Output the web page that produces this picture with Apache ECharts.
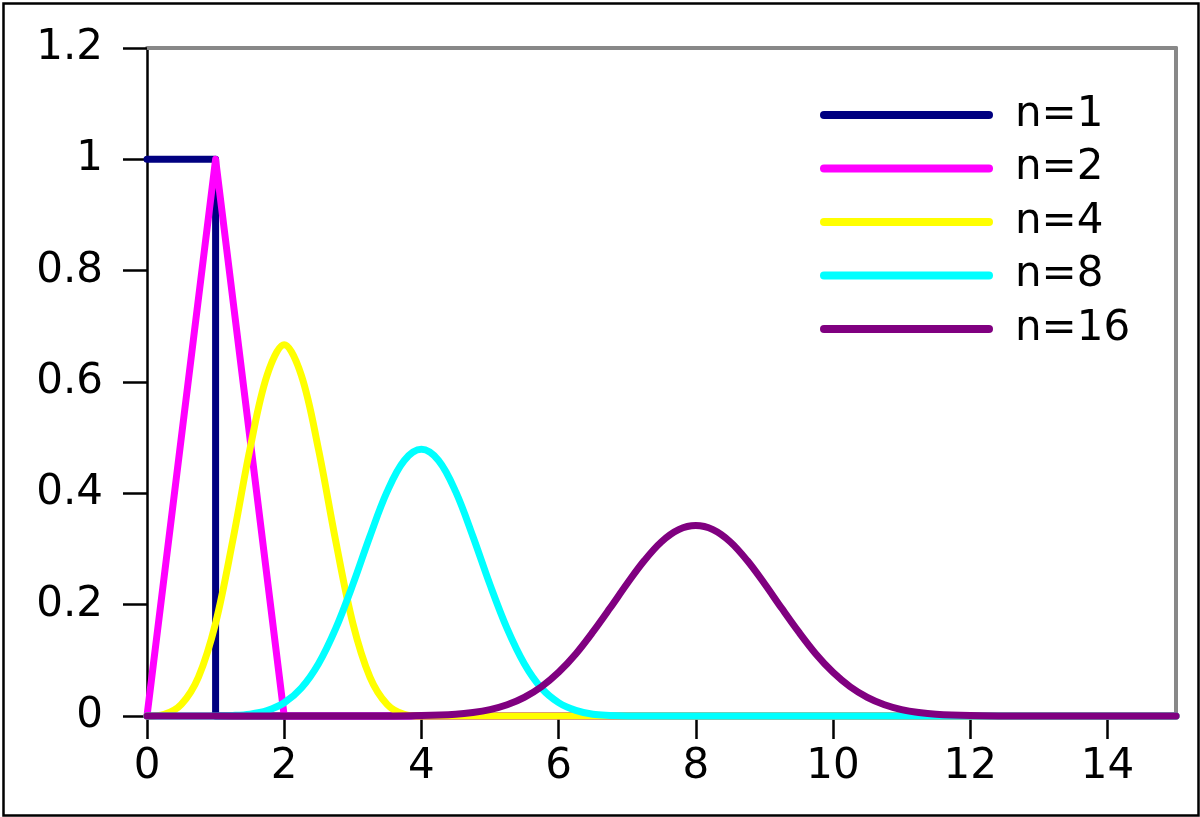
<!DOCTYPE html>
<html>
<head>
<meta charset="utf-8">
<script src="https://cdn.jsdelivr.net/npm/echarts@6/dist/echarts.min.js"></script>
<style>
html,body{margin:0;padding:0;background:#fff;}
#chart{width:1200px;height:817px;}
</style>
</head>
<body>
<div id="chart"></div>
<script>
// Series names
var seriesNames = ['n=1', 'n=2', 'n=4', 'n=8', 'n=16'];
var seriesColors = ['#000080', '#ff00ff', '#ffff00', '#00ffff', '#800080'];

// n=1
var n1X = [0, 1, 1, 15];
var n1Y = [1, 1, 0, 0];
// n=2
var n2X = [0, 1, 2, 15];
var n2Y = [0, 1, 0, 0];
// n=4
var n4X = [0, 0.25, 0.5, 0.75, 1, 1.25, 1.5, 1.75, 2, 2.25, 2.5, 2.75, 3, 3.25, 3.5, 3.75, 4, 15];
var n4Y = [0, 0.003, 0.021, 0.070, 0.167, 0.315, 0.479, 0.612, 0.667, 0.612, 0.479, 0.315, 0.167, 0.070, 0.021, 0.003, 0, 0];
// n=8
var n8X = [0, 1, 1.25, 1.5, 1.75, 2, 2.25, 2.5, 2.75, 3, 3.25, 3.5, 3.75, 4, 4.25, 4.5, 4.75, 5, 5.25, 5.5, 5.75, 6, 6.25, 6.5, 6.75, 7, 15];
var n8Y = [0, 0.0002, 0.001, 0.0034, 0.0098, 0.0238, 0.0504, 0.094, 0.157, 0.236, 0.323, 0.403, 0.459, 0.479, 0.459, 0.403, 0.323, 0.236, 0.157, 0.094, 0.050, 0.024, 0.010, 0.003, 0.001, 0.0002, 0];
// n=16
var n16X = [0, 3, 3.5, 4, 4.5, 4.75, 5, 5.25, 5.5, 5.75, 6, 6.25, 6.5, 6.75, 7, 7.25, 7.5, 7.75, 8,
            8.25, 8.5, 8.75, 9, 9.25, 9.5, 9.75, 10, 10.25, 10.5, 10.75, 11, 11.25, 11.5, 12, 12.5, 13, 15];
var n16Y = [0, 0, 0.0001, 0.0007, 0.0031, 0.0062, 0.0115, 0.0202, 0.0335, 0.0526, 0.0785, 0.1115, 0.151, 0.1939, 0.238, 0.2792, 0.313, 0.3347, 0.342,
            0.3347, 0.313, 0.2792, 0.238, 0.1939, 0.151, 0.1115, 0.0785, 0.0526, 0.0335, 0.0202, 0.0115, 0.0062, 0.0031, 0.0007, 0.0001, 0, 0];

// Tick values
var xTicks = [0, 2, 4, 6, 8, 10, 12, 14];
var yTicks = [0, 0.2, 0.4, 0.6, 0.8, 1, 1.2];

function pairs(xs, ys) {
  var out = [];
  for (var i = 0; i < xs.length; i++) out.push([xs[i], ys[i]]);
  return out;
}

var allX = [n1X, n2X, n4X, n8X, n16X];
var allY = [n1Y, n2Y, n4Y, n8Y, n16Y];
var smoothVals = [false, false, 0.35, 0.35, 0.35];

var FONT = '"DejaVu Sans", sans-serif';
var series = [];
for (var s = 0; s < seriesNames.length; s++) {
  series.push({
    name: seriesNames[s],
    type: 'line',
    data: pairs(allX[s], allY[s]),
    xAxisIndex: 0,
    yAxisIndex: 0,
    symbol: 'none',
    showSymbol: false,
    smooth: smoothVals[s],
    clip: false,
    animation: false,
    color: seriesColors[s],
    lineStyle: { color: seriesColors[s], width: 7, cap: 'round', join: 'round' }
  });
}

var legendIcon = 'path://M4,0 L169,0 A4,4 0 0 1 169,8 L4,8 A4,4 0 0 1 4,0 Z';

var chart = echarts.init(document.getElementById('chart'), null, { renderer: 'canvas' });
chart.setOption({
  animation: false,
  backgroundColor: '#ffffff',
  grid: { left: 147, right: 24, top: 48, bottom: 101, containLabel: false },
  legend: {
    orient: 'vertical',
    left: 815,
    top: 89,
    itemWidth: 173,
    itemHeight: 8,
    itemGap: 11.5,
    icon: legendIcon,
    data: seriesNames.map(function (n, i) { return { name: n, icon: legendIcon, itemStyle: { color: seriesColors[i] } }; }),
    textStyle: { fontFamily: FONT, fontSize: 42, color: '#000', lineHeight: 42, padding: [0, 0, 0, 17] },
    selectedMode: false
  },
  xAxis: [{
    type: 'value',
    min: 0, max: 15, interval: 2,
    position: 'bottom',
    splitLine: { show: false },
    axisLine: { show: true, onZero: false, lineStyle: { color: '#000', width: 2.5 } },
    axisTick: { show: true, inside: false, length: 23, customValues: xTicks, lineStyle: { color: '#000', width: 2.5 } },
    axisLabel: { show: true, customValues: xTicks, margin: 30, fontFamily: FONT, fontSize: 42, color: '#000' }
  }, {
    type: 'value',
    min: 0, max: 15,
    position: 'top',
    splitLine: { show: false },
    axisLine: { show: true, onZero: false, lineStyle: { color: '#888888', width: 4 } },
    axisTick: { show: false },
    axisLabel: { show: false }
  }],
  yAxis: [{
    type: 'value',
    min: 0, max: 1.2, interval: 0.2,
    position: 'left',
    splitLine: { show: false },
    axisLine: { show: true, onZero: false, lineStyle: { color: '#000', width: 2.5 } },
    axisTick: { show: true, inside: false, length: 24, customValues: yTicks, lineStyle: { color: '#000', width: 2.5 } },
    axisLabel: { show: true, customValues: yTicks, margin: 44, fontFamily: FONT, fontSize: 42, color: '#000' }
  }, {
    type: 'value',
    min: 0, max: 1.2,
    position: 'right',
    splitLine: { show: false },
    axisLine: { show: true, onZero: false, lineStyle: { color: '#888888', width: 4 } },
    axisTick: { show: false },
    axisLabel: { show: false }
  }],
  graphic: [{
    type: 'rect',
    left: 1, top: 1,
    shape: { x: 0, y: 0, width: 1195, height: 812 },
    style: { fill: 'none', stroke: '#000', lineWidth: 2.5 },
    silent: true
  }],
  series: series
});
</script>
</body>
</html>
